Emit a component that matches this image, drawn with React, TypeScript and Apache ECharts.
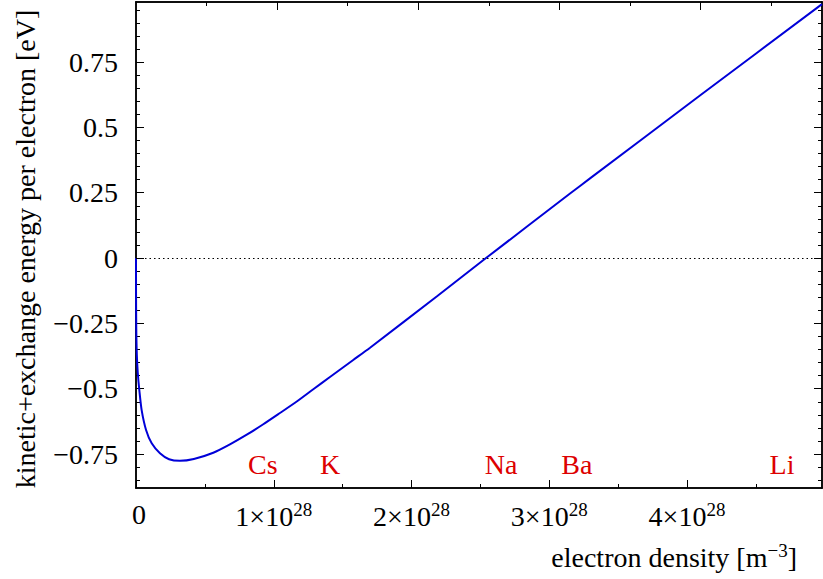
import React, { useEffect, useRef } from "react";
import * as echarts from "echarts";

// Electron density in units of 1e28 m^-3
const densityX: number[] = [
  0, 0.0003, 0.002, 0.006, 0.013, 0.024, 0.041, 0.073, 0.114, 0.174, 0.24,
  0.319, 0.42, 0.561, 0.682, 0.804, 0.924, 1.045, 1.167, 1.287, 1.408, 1.577,
  1.699, 2.183, 2.541, 3.151, 3.296, 4.094, 4.98,
];
// Kinetic + exchange energy per electron [eV]
const energyY: number[] = [
  0, -0.13, -0.27, -0.37, -0.44, -0.505, -0.582, -0.658, -0.709, -0.747, -0.77,
  -0.776, -0.769, -0.745, -0.713, -0.676, -0.636, -0.593, -0.549, -0.502,
  -0.455, -0.39, -0.343, -0.147, 0, 0.247, 0.305, 0.622, 0.972,
];

// Metals placed at their conduction-electron densities
const metalNames: string[] = ["Cs", "K", "Na", "Ba", "Li"];
const metalDensity: number[] = [0.92, 1.41, 2.65, 3.2, 4.69];
const metalLabelY = -0.79;

const yMajorTicks: number[] = [-0.75, -0.5, -0.25, 0, 0.25, 0.5, 0.75];
const yMinorTicks: number[] = [
  -0.85, -0.8, -0.7, -0.65, -0.6, -0.55, -0.45, -0.4, -0.35, -0.3, -0.2, -0.15,
  -0.1, -0.05, 0.05, 0.1, 0.15, 0.2, 0.3, 0.35, 0.4, 0.45, 0.55, 0.6, 0.65, 0.7,
  0.8, 0.85, 0.9, 0.95,
];
const xMajorTicks: number[] = [0, 1, 2, 3, 4];
const xMinorTicks: number[] = [0.5, 1.5, 2.5, 3.5, 4.5];
const topMajorTicks: number[] = [1, 2, 3, 4];
const topMinorTicks: number[] = [0.5, 1.5, 2.5, 3.5, 4.5];

const X_MIN = 0;
const X_MAX = 4.98;
const TOP_MAX = 4.86;
const Y_MIN = -0.88;
const Y_MAX = 0.98;

const FONT = '"Liberation Serif", "Times New Roman", serif';
const AXIS_COLOR = "#000";

function yAxisDef(position: "left" | "right", ticks: number[], len: number, labels: boolean) {
  return {
    type: "value",
    position,
    offset: 0,
    min: Y_MIN,
    max: Y_MAX,
    axisLine: { show: true, onZero: false, lineStyle: { color: AXIS_COLOR, width: 1.5 } },
    axisTick: {
      show: true,
      inside: true,
      length: len,
      customValues: ticks,
      lineStyle: { color: AXIS_COLOR, width: 1 },
    },
    axisLabel: labels
      ? {
          show: true,
          customValues: yMajorTicks,
          margin: 18,
          fontFamily: FONT,
          fontSize: 28,
          color: "#000",
          formatter: (v: number) =>
            v < 0 ? "\u2212" + String(Math.abs(v)) : String(v),
        }
      : { show: false },
    splitLine: { show: false },
  };
}

function xAxisDef(
  position: "bottom" | "top",
  max: number,
  ticks: number[],
  len: number,
  labels: boolean
) {
  return {
    type: "value",
    position,
    offset: 0,
    min: X_MIN,
    max,
    axisLine: { show: true, onZero: false, lineStyle: { color: AXIS_COLOR, width: 1.5 } },
    axisTick: {
      show: true,
      inside: true,
      length: len,
      customValues: ticks,
      lineStyle: { color: AXIS_COLOR, width: 1 },
    },
    axisLabel: labels
      ? {
          show: true,
          customValues: xMajorTicks,
          margin: 12,
          fontFamily: FONT,
          fontSize: 28,
          color: "#000",
          formatter: (v: number) => (v === 0 ? "{z|0}" : `{m|${v}\u00d710}{s|28}`),
          rich: {
            z: { fontFamily: FONT, fontSize: 28, color: "#000", padding: [0, 0, 0, 6] },
            m: { fontFamily: FONT, fontSize: 28, color: "#000" },
            s: {
              fontFamily: FONT,
              fontSize: 19,
              color: "#000",
              padding: [0, 0, 14, 0],
            },
          },
        }
      : { show: false },
    splitLine: { show: false },
  };
}

export default function App() {
  const ref = useRef<HTMLDivElement>(null);

  useEffect(() => {
    if (!ref.current) return;
    const chart = echarts.init(ref.current, undefined, { renderer: "svg" });

    const curve = densityX.map((x, i) => [x, energyY[i]]);
    const metals = metalNames.map((n, i) => [metalDensity[i], metalLabelY, n]);

    chart.setOption({
      animation: false,
      backgroundColor: "#fff",
      grid: { left: 136, right: 1, top: 2, bottom: 91, containLabel: false },
      xAxis: [
        xAxisDef("bottom", X_MAX, xMajorTicks, 8, true),
        xAxisDef("bottom", X_MAX, xMinorTicks, 4, false),
        xAxisDef("top", TOP_MAX, topMajorTicks, 8, false),
        xAxisDef("top", TOP_MAX, topMinorTicks, 4, false),
      ],
      yAxis: [
        yAxisDef("left", yMajorTicks, 8, true),
        yAxisDef("left", yMinorTicks, 4, false),
        yAxisDef("right", yMajorTicks, 8, false),
        yAxisDef("right", yMinorTicks, 4, false),
      ],
      series: [
        {
          type: "line",
          data: curve,
          xAxisIndex: 0,
          yAxisIndex: 0,
          showSymbol: false,
          smooth: 0.25,
          lineStyle: { color: "#0000d8", width: 2 },
          z: 3,
          markLine: {
            silent: true,
            symbol: ["none", "none"],
            label: { show: false },
            lineStyle: { color: "#000", width: 1, type: [1.5, 3] },
            data: [{ yAxis: 0 }],
          },
        },
        {
          type: "scatter",
          data: metals,
          xAxisIndex: 0,
          yAxisIndex: 0,
          symbolSize: 1,
          itemStyle: { color: "rgba(0,0,0,0)", opacity: 1 },
          label: {
            show: true,
            position: "inside",
            formatter: (p: any) => p.data[2],
            fontFamily: FONT,
            fontSize: 28,
            color: "#dd0000",
            opacity: 1,
          },
          z: 4,
        },
      ],
      graphic: [
        {
          type: "text",
          x: 25,
          y: 249,
          rotation: Math.PI / 2,
          style: {
            text: "kinetic+exchange energy per electron [eV]",
            fontFamily: FONT,
            fontSize: 28,
            fill: "#000",
            align: "center",
            verticalAlign: "middle",
          },
        },
        {
          type: "text",
          right: 26,
          top: 541,
          style: {
            text: "{a|electron density [m}{s|\u22123}{a|]}",
            rich: {
              a: { fontFamily: FONT, fontSize: 28, fill: "#000" },
              s: { fontFamily: FONT, fontSize: 19, fill: "#000", padding: [0, 0, 14, 0] },
            },
          },
        },
      ],
    });

    return () => chart.dispose();
  }, []);

  return (
    <div
      ref={ref}
      style={{ position: "fixed", left: 0, top: 0, width: 823, height: 579 }}
    />
  );
}
